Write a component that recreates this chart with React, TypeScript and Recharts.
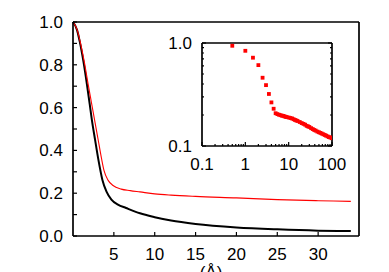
import { LineChart, Line, ScatterChart, Scatter, XAxis, YAxis } from "recharts";

// main panel: g(r) style curves
const blackR = [0, 0.5, 0.8, 1.3, 1.7, 2.05, 2.3, 2.7, 3.1, 3.6, 4.1, 4.7, 5.5, 6.5, 8.2, 10, 12, 15, 20, 25, 30, 34];
const blackG = [1, 0.962, 0.913, 0.81, 0.71, 0.615, 0.545, 0.45, 0.358, 0.262, 0.207, 0.17, 0.147, 0.131, 0.106, 0.088, 0.072, 0.056, 0.04, 0.031, 0.025, 0.023];

const redR = [0, 0.52, 0.85, 1.4, 1.85, 2.25, 2.7, 3.1, 3.5, 3.8, 4.3, 4.9, 5.9, 7, 8.2, 10, 12, 15, 20, 25, 30, 34];
const redG = [1, 0.962, 0.913, 0.81, 0.71, 0.625, 0.53, 0.445, 0.36, 0.305, 0.26, 0.236, 0.219, 0.212, 0.206, 0.197, 0.191, 0.185, 0.178, 0.17, 0.165, 0.162];

const mainXTicks = [5, 10, 15, 20, 25, 30];
const mainYTicks = [0, 0.1, 0.2, 0.3, 0.4, 0.5, 0.6, 0.7, 0.8, 0.9, 1];
const mainYMajor = [0, 0.2, 0.4, 0.6, 0.8, 1];
const mainYLabels = ["0.0", "0.2", "0.4", "0.6", "0.8", "1.0"];

// inset: log-log
const insetX = [
  0.5, 1, 1.5, 2, 2.5, 3, 3.5, 4, 4.5, 5, 5.5, 6, 6.5, 7, 7.5, 8, 8.5, 9, 10, 11, 12, 13, 14, 15, 16, 18, 20,
  22, 24, 26, 28, 30, 33, 36, 39, 42, 46, 50, 54, 58, 63, 68, 73, 79, 85, 91, 98,
];
const insetY = [
  0.94, 0.84, 0.72, 0.61, 0.46, 0.39, 0.32, 0.265, 0.23, 0.208, 0.204, 0.201, 0.199, 0.197, 0.196, 0.194, 0.192,
  0.191, 0.189, 0.187, 0.185, 0.182, 0.179, 0.177, 0.175, 0.171, 0.167, 0.164, 0.161, 0.157, 0.155, 0.153, 0.149,
  0.146, 0.143, 0.141, 0.138, 0.136, 0.134, 0.132, 0.13, 0.128, 0.126, 0.124, 0.122, 0.121, 0.119,
];

const insetXTicks = [0.1, 0.2, 0.3, 0.4, 0.5, 0.6, 0.7, 0.8, 0.9, 1, 2, 3, 4, 5, 6, 7, 8, 9, 10, 20, 30, 40, 50, 60, 70, 80, 90, 100];
const insetXMajor = [0.1, 1, 10, 100];
const insetXLabels = ["0.1", "1", "10", "100"];
const insetYTicks = [0.1, 0.2, 0.3, 0.4, 0.5, 0.6, 0.7, 0.8, 0.9, 1];
const insetYMajor = [0.1, 1];
const insetYLabels = ["0.1", "1.0"];

const blackData = blackR.map((r, i) => ({ r, g: blackG[i] }));
const redData = redR.map((r, i) => ({ r, g: redG[i] }));
const insetData = insetX.map((x, i) => ({ x, y: insetY[i] }));

const font = "'Liberation Sans', Arial, sans-serif";
const fontSize = 17;
const axisLine = { stroke: "#000", strokeWidth: 1.7 };

type Side = "bottom" | "top" | "left" | "right";

// draws inward tick marks; labels only on majors
function makeTick(side: Side, major: number[], labels: string[] | null, majorLen: number, minorLen: number) {
  return (p: any) => {
    const { x, y, payload } = p;
    const idx = major.indexOf(payload.value);
    const len = idx >= 0 ? majorLen : minorLen;
    let line;
    if (side === "bottom") line = <line x1={x} y1={y} x2={x} y2={y - len} />;
    else if (side === "top") line = <line x1={x} y1={y} x2={x} y2={y + len} />;
    else if (side === "left") line = <line x1={x} y1={y} x2={x + len} y2={y} />;
    else line = <line x1={x} y1={y} x2={x - len} y2={y} />;
    let text = null;
    if (labels && idx >= 0) {
      if (side === "bottom")
        text = (
          <text x={x} y={y + 24} textAnchor="middle" fontFamily={font} fontSize={fontSize} fill="#000">
            {labels[idx]}
          </text>
        );
      else
        text = (
          <text x={x - 10} y={y + 6} textAnchor="end" fontFamily={font} fontSize={fontSize} fill="#000">
            {labels[idx]}
          </text>
        );
    }
    return (
      <g>
        <g stroke="#000" strokeWidth={1.2}>{line}</g>
        {text}
      </g>
    );
  };
}

export default function App() {
  return (
    <div style={{ position: "absolute", left: 0, top: 0, width: 389, height: 272, background: "#fff" }}>
      <div style={{ position: "absolute", left: 0, top: 0 }}>
        <LineChart width={389} height={272} margin={{ top: 21, right: 29, bottom: 0, left: 0 }}>
          <XAxis
            dataKey="r"
            type="number"
            domain={[0, 35]}
            ticks={mainXTicks}
            interval={0}
            height={36}
            tickSize={0}
            tickMargin={0}
            tickLine={false}
            axisLine={axisLine}
            tick={makeTick("bottom", mainXTicks, mainXTicks.map(String), 4, 4)}
            label={{ value: "(Å)", position: "insideBottom", offset: -6, dx: -5, fontFamily: font, fontSize: fontSize, fill: "#000" }}
          />
          <XAxis
            xAxisId="top"
            orientation="top"
            type="number"
            domain={[0, 35]}
            ticks={mainXTicks}
            interval={0}
            height={1}
            tickSize={0}
            tickMargin={0}
            tickLine={false}
            axisLine={axisLine}
            tick={makeTick("top", mainXTicks, null, 4, 4)}
          />
          <YAxis
            type="number"
            domain={[0, 1]}
            ticks={mainYTicks}
            interval={0}
            width={73}
            tickSize={0}
            tickMargin={0}
            tickLine={false}
            axisLine={axisLine}
            tick={makeTick("left", mainYMajor, mainYLabels, 4, 4)}
          />
          <YAxis
            yAxisId="right"
            orientation="right"
            type="number"
            domain={[0, 1]}
            ticks={mainYTicks}
            interval={0}
            width={1}
            tickSize={0}
            tickMargin={0}
            tickLine={false}
            axisLine={axisLine}
            tick={makeTick("right", mainYMajor, null, 4, 4)}
          />
          <Line data={blackData} dataKey="g" type="monotone" stroke="#000" strokeWidth={2} dot={false} isAnimationActive={false} />
          <Line data={redData} dataKey="g" type="monotone" stroke="#ff0000" strokeWidth={1.1} dot={false} isAnimationActive={false} />
        </LineChart>
      </div>
      <div style={{ position: "absolute", left: 150, top: 30 }}>
        <ScatterChart width={200} height={150} margin={{ top: 12, right: 17, bottom: 0, left: 0 }}>
          <XAxis
            dataKey="x"
            type="number"
            scale="log"
            domain={[0.1, 100]}
            allowDataOverflow
            ticks={insetXTicks}
            interval={0}
            height={34}
            tickSize={0}
            tickMargin={0}
            tickLine={false}
            axisLine={axisLine}
            tick={makeTick("bottom", insetXMajor, insetXLabels, 4, 2)}
          />
          <XAxis
            xAxisId="top"
            orientation="top"
            type="number"
            scale="log"
            domain={[0.1, 100]}
            allowDataOverflow
            ticks={insetXTicks}
            interval={0}
            height={1}
            tickSize={0}
            tickMargin={0}
            tickLine={false}
            axisLine={axisLine}
            tick={makeTick("top", insetXMajor, null, 4, 2)}
          />
          <YAxis
            dataKey="y"
            type="number"
            scale="log"
            domain={[0.1, 1]}
            allowDataOverflow
            ticks={insetYTicks}
            interval={0}
            width={52}
            tickSize={0}
            tickMargin={0}
            tickLine={false}
            axisLine={axisLine}
            tick={makeTick("left", insetYMajor, insetYLabels, 4, 2)}
          />
          <YAxis
            yAxisId="right"
            orientation="right"
            type="number"
            scale="log"
            domain={[0.1, 1]}
            allowDataOverflow
            ticks={insetYTicks}
            interval={0}
            width={1}
            tickSize={0}
            tickMargin={0}
            tickLine={false}
            axisLine={axisLine}
            tick={makeTick("right", insetYMajor, null, 4, 2)}
          />
          <Scatter
            data={insetData}
            isAnimationActive={false}
            shape={(p: any) => <rect x={p.cx - 1.9} y={p.cy - 1.9} width={3.8} height={3.8} fill="#ff0000" />}
          />
        </ScatterChart>
      </div>
    </div>
  );
}
